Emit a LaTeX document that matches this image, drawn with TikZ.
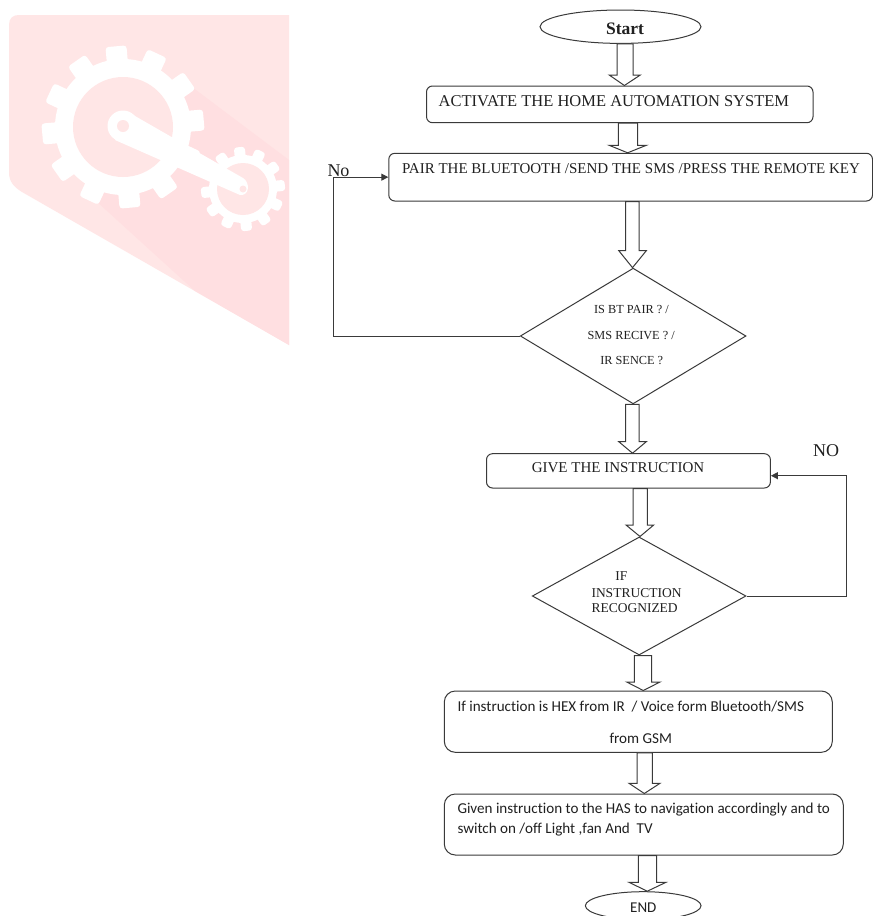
\documentclass[tikz,border=0pt]{standalone}
\usepackage{fontspec}
\setmainfont{Liberation Serif}
\newfontfamily\calfont[Ligatures=NoCommon]{Carlito}
\usetikzlibrary{shapes.geometric,arrows.meta,calc}
\definecolor{logobg}{HTML}{FFE6E6}
\definecolor{logoshade}{HTML}{FFDFE1}
\definecolor{ink}{HTML}{3A3A3A}
\definecolor{txt}{HTML}{202020}
\tikzset{
  boxnode/.style={draw=ink,line width=1pt,rounded corners=6pt,inner sep=0pt,fill=white},
  bigbox/.style={boxnode,rounded corners=11pt},
  ovalnode/.style={draw=ink,line width=1pt,ellipse,inner sep=0pt,fill=white},
  decision/.style={draw=ink,line width=1pt,diamond,inner sep=0pt,fill=white},
  hollow/.style={draw=ink,line width=1pt,fill=white,line join=miter},
  link/.style={draw=ink,line width=1pt,-{Triangle[length=7pt,width=7pt]}},
  label/.style={inner sep=0pt,text=txt,anchor=center},
  leftlabel/.style={inner sep=0pt,text=txt,anchor=west},
}
% from, to, shaft left, shaft right, wing left, wing right, tip x, head y
\newcommand{\hollowarrow}[8]{%
  \draw[hollow] (#3,0 |- #1) -- (#3,-#8) -- (#5,-#8) -- (#7,0 |- #2) -- (#6,-#8) -- (#4,-#8) -- (#4,0 |- #1) -- cycle;}
\newcommand{\gearshape}[6]{% cx, cy, root r, tooth start, tooth tip, tooth half width
  \fill[white] (#1,#2) circle[radius=#3];
  \foreach \ang in {25,55,...,355}{
    \fill[white,rounded corners=3pt,shift={(#1,#2)},rotate=\ang] (#4,-#6) rectangle (#5,#6);
  }}
\begin{document}
\begin{tikzpicture}[x=1pt,y=1pt]
\useasboundingbox (0,0) rectangle (873,-916);
\clip (0,0) rectangle (873,-916);
\fill[white] (0,0) rectangle (873,-916);
% logo
\begin{scope}[yscale=-1]
\fill[logobg] (19,15) -- (289,15) -- (289,345) -- (22,192) .. controls (14,187) and (9,182) .. (9,172) -- (9,25) .. controls (9,18) and (13,15) .. (19,15) -- cycle;
\fill[logoshade] (192,87) -- (289,160) -- (289,345) -- (195,291) -- (95,200) -- cycle;
\gearshape{123}{127}{68}{55}{81}{10.5}
\gearshape{243}{189}{34}{25}{42}{5.5}
\fill[logobg] (123,127) circle[radius=50];
\fill[logobg] (243,189) circle[radius=26];
\fill[white] (128,112) -- (243,178) .. controls (250,182) and (250,196) .. (240,195) -- (115,140) -- cycle;
\fill[white] (123,126) circle[radius=15.5];
\fill[logobg] (123,126) circle[radius=6];
\fill[logobg] (243,189) circle[radius=3.5];
\end{scope}
% nodes
\node[ovalnode,minimum width=161pt,minimum height=33.4pt] (start) at (620.5,-26.7) {};
\node[boxnode,minimum width=386.5pt,minimum height=36.7pt] (activate) at (619.75,-104.35) {};
\node[boxnode,minimum width=483.7pt,minimum height=47.7pt] (pair) at (630.65,-177.15) {};
\node[decision,minimum width=225.7pt,minimum height=135.7pt] (dec1) at (633.15,-336) {};
\node[boxnode,minimum width=283.9pt,minimum height=34.3pt] (give) at (628.45,-470.85) {};
\node[decision,minimum width=213.7pt,minimum height=118pt] (dec2) at (639.15,-596) {};
\node[bigbox,minimum width=388pt,minimum height=61.3pt] (hex) at (638.3,-721.65) {};
\node[bigbox,minimum width=399pt,minimum height=61pt] (given) at (643.8,-824.5) {};
\node[ovalnode,minimum width=115.7pt,minimum height=28pt] (stop) at (643.2,-905.7) {};
% hollow arrows
\hollowarrow{start.south}{activate.north}{617}{633.2}{609.2}{640.3}{624.4}{75}
\hollowarrow{activate.south}{pair.north}{618.4}{637.5}{609.2}{646.3}{627.6}{145.3}
\hollowarrow{pair.south}{dec1.north}{625.5}{639.2}{618.8}{646.3}{632.5}{250.7}
\hollowarrow{dec1.south}{give.north}{625.5}{639.2}{618.8}{646.3}{632.5}{441.7}
\hollowarrow{give.south}{dec2.north}{633.2}{647.3}{626}{653.7}{640}{525}
\hollowarrow{dec2.south}{hex.north}{634.3}{651.7}{626.7}{660}{643.3}{682}
\hollowarrow{hex.south}{given.north}{637}{652.3}{629}{660}{644.3}{783.3}
\hollowarrow{given.south}{stop.north}{638.3}{656.7}{629}{666}{647.3}{882.3}
% feedback connectors
\coordinate (noturn) at (333,-177.15);
\coordinate (NOturn) at (846,-475.7);
\draw[link] (dec1.west) -| (noturn) -- (pair.west);
\draw[link] (dec2.east) -| (NOturn) -- (give.east |- NOturn);
% texts
\node[label,font=\fontsize{17.5}{20}\selectfont\bfseries] (tstart) at (625,-28.3) {Start};
\node[leftlabel,font=\fontsize{16.5}{19}\selectfont] (tactivate) at (438.5,-100.7) {ACTIVATE THE HOME AUTOMATION SYSTEM};
\node[leftlabel,font=\fontsize{15}{18}\selectfont] (tpair) at (401.8,-168.5) {PAIR THE BLUETOOTH /SEND THE SMS /PRESS THE REMOTE KEY};
\node[label,font=\fontsize{18}{20}\selectfont] (tno) at (338.5,-170.7) {No};
\node[label,font=\fontsize{12.3}{14}\selectfont] (tq1) at (631.5,-310) {IS BT PAIR ? /};
\node[label,font=\fontsize{12.3}{14}\selectfont] (tq2) at (631.2,-335.3) {SMS RECIVE ? /};
\node[label,font=\fontsize{12.3}{14}\selectfont] (tq3) at (631.7,-361) {IR SENCE ?};
\node[leftlabel,font=\fontsize{15}{18}\selectfont] (tgive) at (531.6,-468) {GIVE THE INSTRUCTION};
\node[label,font=\fontsize{18}{20}\selectfont] (tNO) at (826,-450.3) {NO};
\node[label,font=\fontsize{13.5}{16}\selectfont] (tif) at (621.3,-576) {IF};
\node[leftlabel,font=\fontsize{13.5}{16}\selectfont] (tins) at (591.3,-592.7) {INSTRUCTION};
\node[leftlabel,font=\fontsize{13.5}{16}\selectfont] (trec) at (591.3,-608.3) {RECOGNIZED};
\node[leftlabel,font=\calfont\fontsize{15.1}{18}\selectfont] (thex) at (457.3,-707) {If instruction is HEX from IR\ \ / Voice form Bluetooth/SMS};
\node[label,font=\calfont\fontsize{15.1}{18}\selectfont] (tgsm) at (640.8,-738.3) {from GSM};
\node[leftlabel,font=\calfont\fontsize{15.1}{18}\selectfont] (tgiv1) at (457.3,-810) {Given instruction to the HAS to navigation accordingly and to};
\node[leftlabel,font=\calfont\fontsize{15.1}{18}\selectfont] (tgiv2) at (457.3,-829.3) {switch on /off Light ,fan And\ \ TV};
\node[label,font=\calfont\fontsize{15}{18}\selectfont] (tend) at (643.3,-908) {END};
\end{tikzpicture}
\end{document}
